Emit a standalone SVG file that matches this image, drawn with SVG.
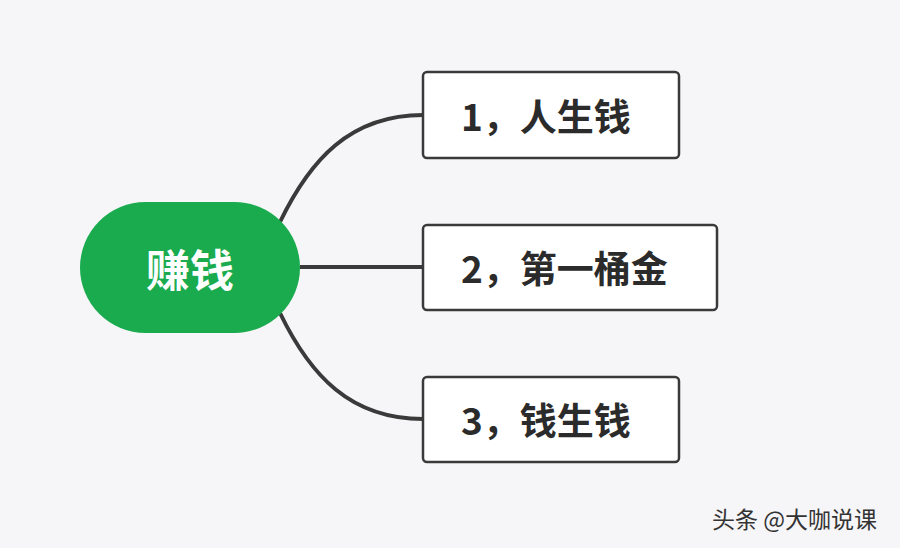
<svg xmlns="http://www.w3.org/2000/svg" width="900" height="548" viewBox="0 0 900 548">
<style>
.box{fill:#fff;stroke:#3a3a3a;stroke-width:2.5}
.lbl{font-family:"Noto Sans CJK SC","Liberation Sans",sans-serif;font-weight:bold;font-size:37px;fill:#2b2b2b;dominant-baseline:central}
.c{fill:none;stroke:#3a3a3a;stroke-width:4}
</style>
<rect width="900" height="548" fill="#f6f6f8"/>
<g id="connectors">
<path class="c" d="M280,222 C310,160 350,115 423,115"/>
<path class="c" d="M300,267 L423,267"/>
<path class="c" d="M280,313 C310,375 350,419 423,419"/>
</g>
<g id="root">
<rect x="80" y="202" width="220" height="131" rx="65.5" fill="#1aab4f"/>
<text x="190" y="268" text-anchor="middle" class="lbl" style="fill:#fff;font-size:44px">赚钱</text>
</g>
<g id="n1"><rect class="box" x="423" y="72" width="256" height="86" rx="4"/><text class="lbl" x="461" y="115">1，人生钱</text></g>
<g id="n2"><rect class="box" x="423" y="225" width="294" height="85" rx="4"/><text class="lbl" x="461" y="267">2，第一桶金</text></g>
<g id="n3"><rect class="box" x="423" y="377" width="256" height="85" rx="4"/><text class="lbl" x="461" y="419">3，钱生钱</text></g>
<text x="712" y="528" font-family="Noto Sans CJK SC,sans-serif" font-size="23" fill="#333">头条 @大咖说课</text>
</svg>
